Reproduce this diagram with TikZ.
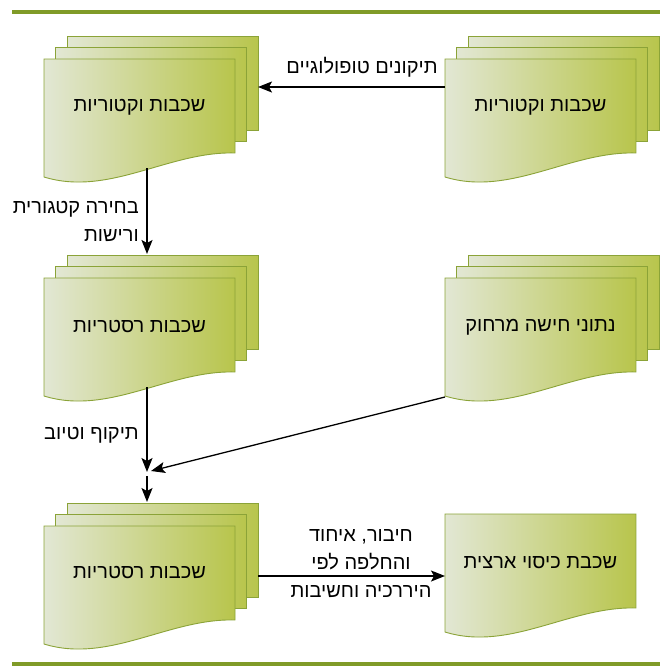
\documentclass[tikz,border=0pt]{standalone}
\usepackage{fontspec}
\setmainfont{Liberation Sans}
\newfontfamily\hebfont[Script=Hebrew]{Liberation Sans}
\TeXXeTstate=1
\usetikzlibrary{arrows.meta}
\definecolor{docL}{RGB}{226,231,212}
\definecolor{docR}{RGB}{184,197,76}
\definecolor{docLine}{RGB}{139,163,56}
\definecolor{barGreen}{RGB}{128,155,40}
\tikzset{
  sheet/.style={left color=docL, right color=docR, draw=docLine, line width=0.9pt},
  doctext/.style={font={\hebfont\fontsize{20}{24}\selectfont}, text=black, inner sep=0pt},
  lbl/.style={font={\hebfont\fontsize{20}{28}\selectfont}, text=black, inner sep=0pt},
  flow/.style={draw=black, line width=1.3pt, -{Stealth[length=14pt,width=11pt,inset=3pt]}},
  bar/.style={draw=barGreen, line width=4pt},
}
\newcommand{\frontsheet}{\path[sheet] (0,0) -- (191,0) -- (191,94) .. controls (125,92) and (65,138) .. (0,118) -- cycle;}
\newcommand{\docstack}[2]{%
  \begin{scope}[shift={(#1,#2)}]
    \path[sheet] (23,-23) rectangle (214,71);
    \path[sheet] (11.5,-11.5) rectangle (202.5,82.5);
    \frontsheet
  \end{scope}}
\newcommand{\docsingle}[2]{%
  \begin{scope}[shift={(#1,#2)}]
    \frontsheet
  \end{scope}}
\begin{document}
\begin{tikzpicture}[x={(1pt,0)}, y={(0,-1pt)}]
\useasboundingbox (0,0) rectangle (665,667);
% bars
\coordinate (barTL) at (12,12); \coordinate (barTR) at (660,12);
\coordinate (barBL) at (12,664); \coordinate (barBR) at (660,664);
\draw[bar] (barTL) -- (barTR);
\draw[bar] (barBL) -- (barBR);
% documents
\docstack{44}{59}
\docstack{445}{59}
\docstack{44}{278}
\docstack{445}{278}
\docstack{44}{526}
\docsingle{445}{514}
% texts
\node[doctext] (vecL) at (139.5,107) {\beginR שכבות וקטוריות\endR};
\node[doctext] (vecR) at (540.5,107) {\beginR שכבות וקטוריות\endR};
\node[doctext] (rasA) at (139.5,327) {\beginR שכבות רסטריות\endR};
\node[doctext] (remote) at (540.5,327) {\beginR נתוני חישה מרחוק\endR};
\node[doctext] (rasB) at (139.5,573) {\beginR שכבות רסטריות\endR};
\node[doctext] (cover) at (540.5,563) {\beginR שכבת כיסוי ארצית\endR};
% connector end points
\coordinate (vecR-w) at (445,87);
\coordinate (vecL-e) at (258,87);
\coordinate (vecL-s) at (147,168);
\coordinate (rasA-n) at (147,254);
\coordinate (rasA-s) at (147,387);
\coordinate (join) at (147,472);
\coordinate (joinD) at (151,471);
\coordinate (join2) at (147,476);
\coordinate (remote-sw) at (445,397);
\coordinate (rasB-n) at (147,502);
\coordinate (rasB-e) at (258,576);
\coordinate (cover-w) at (445,576);
% connectors
\draw[flow] (vecR-w) -- (vecL-e);
\draw[flow] (vecL-s) -- (rasA-n);
\draw[flow] (rasA-s) -- (join);
\draw[flow] (remote-sw) -- (joinD);
\draw[flow] (join2) -- (rasB-n);
\draw[flow] (rasB-e) -- (cover-w);
% labels
\node[lbl] (l1) at (362,67) {\beginR תיקונים טופולוגיים\endR};
\node[lbl, align=right, anchor=east] (l2) at (139,221) {\beginR בחירה קטגורית\endR\\\beginR ורישות\endR};
\node[lbl, anchor=east] (l3) at (139,435) {\beginR תיקוף וטיוב\endR};
\node[lbl, align=center] (l4) at (361,564) {\beginR חיבור, איחוד\endR\\\beginR והחלפה לפי\endR\\\beginR היררכיה וחשיבות\endR};
\end{tikzpicture}
\end{document}
